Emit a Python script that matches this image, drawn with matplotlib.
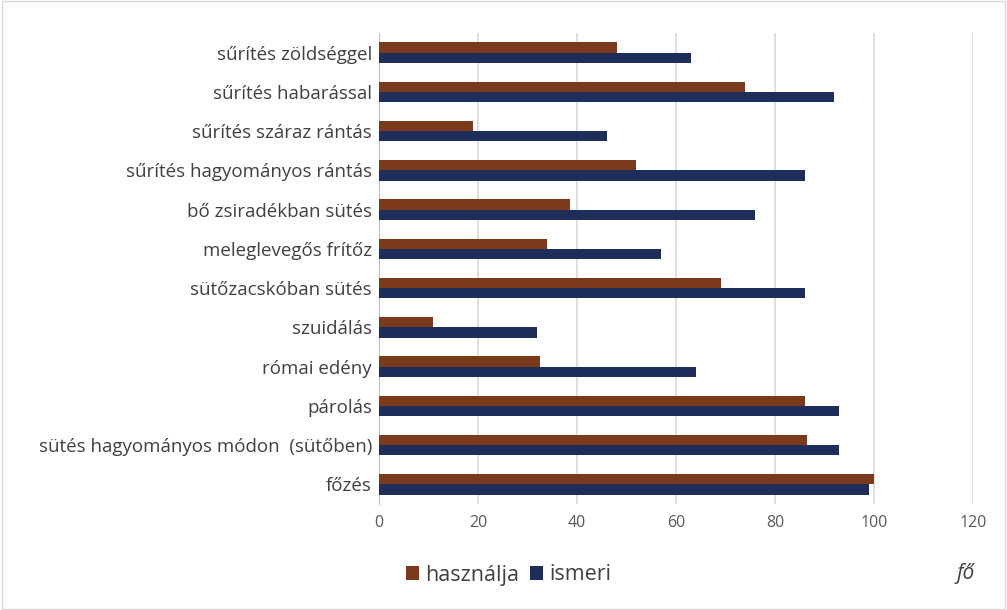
import matplotlib
matplotlib.use("Agg")
import matplotlib.pyplot as plt
import numpy as np
from matplotlib.patches import Rectangle

categories = ["sűrítés zöldséggel", "sűrítés habarással", "sűrítés száraz rántás",
              "sűrítés hagyományos rántás", "bő zsiradékban sütés", "meleglevegős frítőz",
              "sütőzacskóban sütés", "szuidálás", "római edény", "párolás",
              "sütés hagyományos módon  (sütőben)", "főzés"]
hasznalja = [48, 74, 19, 52, 38.5, 34, 69, 11, 32.5, 86, 86.5, 100]
ismeri = [63, 92, 46, 86, 76, 57, 86, 32, 64, 93, 93, 99]
xticks = [0, 20, 40, 60, 80, 100, 120]

plt.rcParams['font.family'] = ['Open Sans', 'DejaVu Sans']

fig = plt.figure(figsize=(10.07, 6.10), dpi=100)
ax = fig.add_axes([379/1007, 1 - 504/610, (973-379)/1007, (504-33)/610])

n = len(categories)
y = np.arange(n)[::-1].astype(float)
h = 0.26
brown = "#7B3A1B"
navy = "#1F2D5A"
ax.barh(y + h/2, hasznalja, height=h, color=brown, label="használja", zorder=3)
ax.barh(y - h/2, ismeri, height=h, color=navy, label="ismeri", zorder=3)

ax.set_xlim(0, 120)
ax.set_ylim(-0.5, n - 0.5)
ax.set_xticks(xticks)
ax.set_xticklabels([str(t) for t in xticks], fontsize=11.5, color="#595959")
ax.set_yticks(y)
ax.set_yticklabels(categories, fontsize=13.5, color="#404040")
ax.tick_params(axis='y', length=0, pad=5)
ax.tick_params(axis='x', length=0, pad=8)
ax.grid(axis='x', color="#d9d9d9", linewidth=1.2, zorder=0)
for s in ["top", "right", "bottom"]:
    ax.spines[s].set_visible(False)
ax.spines["left"].set_color("#bfbfbf")

leg = fig.legend(loc="center", bbox_to_anchor=(509/1007, 1 - 575/610), ncol=2,
                 frameon=False, fontsize=15.5, handlelength=0.6, handleheight=0.6,
                 handletextpad=0.3, columnspacing=0.5, labelcolor="#404040")
fig.text(965/1007, 1 - 574/610, "fő", fontsize=15, style="italic", color="#404040",
         ha="center", va="center")

fig.patches.append(Rectangle((0.002, 0.002), 0.996, 0.996, transform=fig.transFigure,
                             fill=False, edgecolor="#d9d9d9", linewidth=1))

fig.savefig("out.png", dpi=100)
